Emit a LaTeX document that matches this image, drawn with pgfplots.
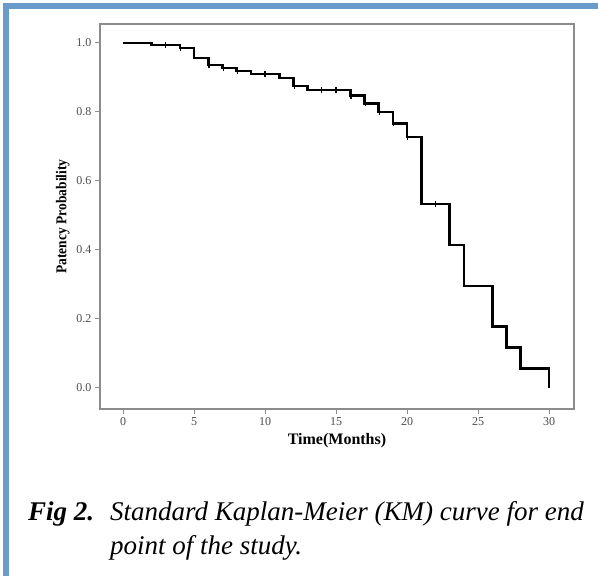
\documentclass[border=0pt]{standalone}
\usepackage{fontspec}
\setmainfont{Liberation Serif}
\usepackage{pgfplots}
\pgfplotsset{compat=1.18}
\definecolor{frameblue}{HTML}{6A9BCB}
\definecolor{axgray}{gray}{0.55}
\definecolor{labgray}{gray}{0.3}

\begin{document}
\begin{tikzpicture}
\path[use as bounding box] (0,0) rectangle (598bp,576bp);
\fill[white] (0,0) rectangle (598bp,576bp);
\fill[frameblue] (3bp,0) rectangle (9bp,573bp);
\fill[frameblue] (3bp,567bp) rectangle (598bp,573bp);

\begin{axis}[
    at={(100bp,167bp)}, anchor=south west,
    scale only axis,
    width=474bp, height=385bp,
    xmin=-1.62, xmax=31.76,
    ymin=-0.061, ymax=1.055,
    xtick={0,5,...,30},
    ytick={0,0.2,...,1.0},
    xtick pos=bottom, ytick pos=left,
    tick align=outside,
    major tick length=5bp,
    axis line style={axgray, line width=1.3bp},
    every tick/.style={axgray, line width=1bp},
    tick label style={font=\fontsize{12bp}{14bp}\selectfont, text=labgray},
    /pgf/number format/assume math mode=true,
    yticklabel style={/pgf/number format/.cd, fixed, fixed zerofill, precision=1},
    xlabel={\textbf{Time(Months)}},
    ylabel={\scalebox{0.9}[1]{\textbf{Patency Probability}}},
    xlabel style={font=\fontsize{16bp}{18bp}\selectfont, yshift=-1bp},
    ylabel style={font=\fontsize{15bp}{17bp}\selectfont, yshift=0bp},
    clip=false,
]
% Kaplan-Meier estimate (step function)
\addplot[const plot, black, line width=2.6bp] coordinates {
  (0,1.000) (2,0.994) (4,0.985) (5,0.956) (6,0.936) (7,0.928)
  (8,0.919) (9,0.910) (11,0.898) (12,0.875) (13,0.864) (16,0.847)
  (17,0.825) (18,0.800) (19,0.767) (20,0.727) (21,0.533) (23,0.414)
  (24,0.296) (26,0.178) (27,0.117) (28,0.057) (30,0.057) (30,0.000)
};
% censored observations
\addplot[only marks, mark=|, mark size=3bp, black, mark options={line width=1.2bp}] coordinates {
  (3,0.994) (4.05,0.985) (6.05,0.936) (7.05,0.928) (8.05,0.919)
  (10,0.910) (12.05,0.875) (14,0.864) (15,0.864) (16.05,0.847)
  (17.05,0.825) (18.05,0.800) (19.05,0.767) (20.05,0.727) (22,0.533)
};
\end{axis}

\node[anchor=base west, inner sep=0] at (28bp,55bp)
  {\fontsize{27bp}{33bp}\selectfont\textbf{\textit{Fig 2.}}};
\node[anchor=base west, inner sep=0] at (110bp,55bp)
  {\fontsize{27bp}{33bp}\selectfont\textit{Standard Kaplan-Meier (KM) curve for end}};
\node[anchor=base west, inner sep=0] at (110bp,22bp)
  {\fontsize{27bp}{33bp}\selectfont\textit{point of the study.}};
\end{tikzpicture}
\end{document}
